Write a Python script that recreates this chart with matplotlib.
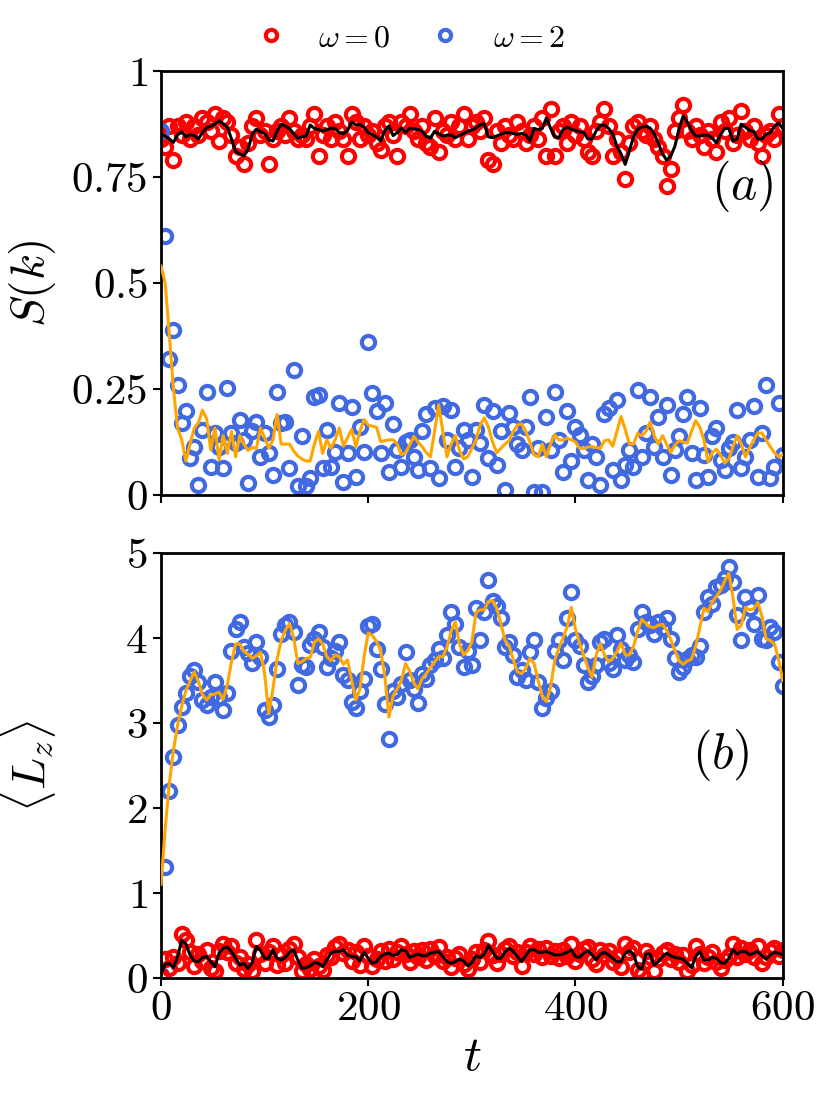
import matplotlib
matplotlib.use("Agg")
import matplotlib.pyplot as plt
import numpy as np

plt.rcParams['mathtext.fontset'] = 'cm'
plt.rcParams['font.family'] = 'serif'
plt.rcParams['font.serif'] = ['cmr10', 'DejaVu Serif']
plt.rcParams['axes.formatter.use_mathtext'] = True

# sample times (every 4 time units)
t = np.arange(0, 601, 4)

# panel (a): S(k)
s_red = [0.84, 0.82, 0.87, 0.79, 0.87, 0.85, 0.88, 0.84, 0.87, 0.85,
         0.89, 0.88, 0.86, 0.90, 0.835, 0.89, 0.88, 0.85, 0.80, 0.82,
         0.78, 0.83, 0.87, 0.89, 0.85, 0.86, 0.78, 0.84, 0.86, 0.87,
         0.85, 0.89, 0.86, 0.84, 0.85, 0.84, 0.87, 0.90, 0.80, 0.85,
         0.87, 0.84, 0.88, 0.86, 0.84, 0.80, 0.90, 0.88, 0.84, 0.87,
         0.85, 0.86, 0.83, 0.815, 0.87, 0.88, 0.85, 0.80, 0.88, 0.87,
         0.90, 0.86, 0.84, 0.87, 0.83, 0.82, 0.89, 0.81, 0.86, 0.85,
         0.88, 0.84, 0.87, 0.90, 0.84, 0.87, 0.88, 0.86, 0.89, 0.79,
         0.78, 0.86, 0.83, 0.87, 0.85, 0.84, 0.88, 0.86, 0.83, 0.85,
         0.87, 0.84, 0.89, 0.80, 0.91, 0.80, 0.86, 0.87, 0.83, 0.88,
         0.85, 0.87, 0.84, 0.81, 0.80, 0.86, 0.88, 0.91, 0.87, 0.80,
         0.84, 0.81, 0.745, 0.83, 0.87, 0.88, 0.86, 0.85, 0.87, 0.84,
         0.82, 0.80, 0.73, 0.77, 0.86, 0.89, 0.92, 0.86, 0.84, 0.87,
         0.85, 0.82, 0.86, 0.84, 0.81, 0.88, 0.86, 0.89, 0.83, 0.85,
         0.905, 0.86, 0.84, 0.87, 0.83, 0.80, 0.85, 0.86, 0.84, 0.90,
         0.87]
s_red_line = [0.85, 0.847, 0.84, 0.832, 0.85, 0.857, 0.845, 0.85, 0.848, 0.84,
              0.855, 0.867, 0.87, 0.875, 0.883, 0.876, 0.868, 0.84, 0.81, 0.805,
              0.80, 0.815, 0.851, 0.863, 0.857, 0.853, 0.838, 0.835, 0.858, 0.875,
              0.87, 0.864, 0.853, 0.842, 0.845, 0.847, 0.873, 0.865, 0.862, 0.859,
              0.862, 0.865, 0.865, 0.855, 0.852, 0.86, 0.88, 0.873, 0.874, 0.868,
              0.855, 0.85, 0.845, 0.835, 0.86, 0.871, 0.848, 0.855, 0.866, 0.855,
              0.865, 0.864, 0.862, 0.859, 0.846, 0.842, 0.858, 0.852, 0.847, 0.849,
              0.849, 0.843, 0.848, 0.853, 0.858, 0.861, 0.866, 0.873, 0.876, 0.845,
              0.843, 0.847, 0.851, 0.855, 0.855, 0.853, 0.851, 0.853, 0.85, 0.835,
              0.865, 0.862, 0.865, 0.89, 0.865, 0.845, 0.843, 0.862, 0.868, 0.863,
              0.86, 0.857, 0.855, 0.84, 0.84, 0.859, 0.872, 0.873, 0.865, 0.852,
              0.823, 0.805, 0.78, 0.812, 0.845, 0.863, 0.868, 0.87, 0.866, 0.852,
              0.83, 0.805, 0.79, 0.80, 0.823, 0.865, 0.894, 0.88, 0.86, 0.847,
              0.847, 0.849, 0.849, 0.842, 0.831, 0.85, 0.865, 0.865, 0.835, 0.84,
              0.875, 0.868, 0.86, 0.858, 0.84, 0.84, 0.851, 0.855, 0.87, 0.878,
              0.865]
s_blue = [0.86, 0.61, 0.32, 0.39, 0.26, 0.17, 0.197, 0.087, 0.114, 0.024,
          0.154, 0.244, 0.067, 0.146, 0.114, 0.063, 0.252, 0.146, 0.122, 0.177,
          0.13, 0.028, 0.15, 0.173, 0.09, 0.146, 0.098, 0.047, 0.244, 0.17,
          0.173, 0.063, 0.295, 0.02, 0.138, 0.02, 0.04, 0.23, 0.236, 0.063,
          0.154, 0.067, 0.102, 0.217, 0.03, 0.098, 0.207, 0.043, 0.16, 0.102,
          0.36, 0.24, 0.197, 0.098, 0.217, 0.055, 0.168, 0.106, 0.067, 0.126,
          0.13, 0.09, 0.059, 0.15, 0.19, 0.063, 0.205, 0.04, 0.209, 0.13,
          0.20, 0.067, 0.11, 0.154, 0.13, 0.043, 0.154, 0.122, 0.213, 0.087,
          0.197, 0.071, 0.15, 0.012, 0.193, 0.16, 0.12, 0.106, 0.16, 0.232,
          0.008, 0.11, 0.008, 0.185, 0.106, 0.244, 0.13, 0.055, 0.197, 0.079,
          0.16, 0.142, 0.106, 0.035, 0.12, 0.09, 0.024, 0.19, 0.205, 0.059,
          0.225, 0.035, 0.071, 0.106, 0.067, 0.248, 0.09, 0.146, 0.232, 0.114,
          0.185, 0.09, 0.213, 0.047, 0.106, 0.138, 0.19, 0.232, 0.098, 0.035,
          0.205, 0.095, 0.043, 0.138, 0.158, 0.083, 0.059, 0.11, 0.126, 0.20,
          0.063, 0.09, 0.13, 0.209, 0.043, 0.146, 0.26, 0.04, 0.067, 0.217,
          0.095]
s_blue_line = [0.54, 0.50, 0.38, 0.25, 0.158, 0.13, 0.08, 0.12, 0.157, 0.17,
               0.20, 0.18, 0.106, 0.158, 0.083, 0.14, 0.098, 0.15, 0.09, 0.14,
               0.12, 0.105, 0.112, 0.11, 0.158, 0.135, 0.11, 0.13, 0.19, 0.12,
               0.12, 0.12, 0.104, 0.092, 0.085, 0.08, 0.08, 0.12, 0.15, 0.098,
               0.13, 0.11, 0.13, 0.158, 0.115, 0.135, 0.155, 0.114, 0.15, 0.178,
               0.165, 0.162, 0.16, 0.126, 0.128, 0.13, 0.13, 0.12, 0.095, 0.10,
               0.118, 0.138, 0.125, 0.114, 0.10, 0.09, 0.15, 0.213, 0.15, 0.09,
               0.12, 0.14, 0.105, 0.085, 0.09, 0.11, 0.13, 0.165, 0.182, 0.16,
               0.125, 0.10, 0.11, 0.12, 0.128, 0.15, 0.165, 0.168, 0.15, 0.125,
               0.095, 0.09, 0.12, 0.09, 0.12, 0.142, 0.13, 0.13, 0.134, 0.13,
               0.125, 0.11, 0.11, 0.113, 0.114, 0.112, 0.11, 0.128, 0.13, 0.115,
               0.15, 0.185, 0.155, 0.12, 0.12, 0.145, 0.14, 0.15, 0.172, 0.14,
               0.12, 0.14, 0.12, 0.10, 0.118, 0.128, 0.125, 0.122, 0.15, 0.175,
               0.16, 0.13, 0.078, 0.10, 0.108, 0.095, 0.075, 0.085, 0.114, 0.14,
               0.12, 0.09, 0.11, 0.13, 0.146, 0.146, 0.13, 0.114, 0.10, 0.09,
               0.095]

# panel (b): <L_z>
lz_blue = [0.03, 1.30, 2.20, 2.60, 2.98, 3.19, 3.35, 3.55, 3.62, 3.48,
           3.27, 3.21, 3.31, 3.48, 3.31, 3.15, 3.35, 3.85, 4.11, 4.19,
           3.89, 3.82, 3.70, 3.95, 3.78, 3.15, 3.07, 3.21, 3.64, 4.05,
           4.15, 4.19, 4.07, 3.45, 3.68, 3.66, 3.92, 3.99, 4.07, 3.89,
           3.66, 3.76, 3.85, 3.95, 3.56, 3.50, 3.25, 3.18, 3.38, 3.52,
           4.14, 4.17, 3.87, 3.64, 3.22, 2.81, 3.38, 3.31, 3.46, 3.84,
           3.50, 3.40, 3.24, 3.58, 3.52, 3.68, 3.74, 3.87, 3.76, 4.03,
           4.31, 4.17, 3.89, 3.66, 3.85, 3.68, 4.35, 3.97, 4.31, 4.68,
           4.44, 4.38, 4.23, 3.89, 3.95, 3.80, 3.54, 3.62, 3.50, 3.84,
           3.97, 3.48, 3.17, 3.29, 3.38, 3.85, 3.97, 3.74, 4.23, 4.54,
           3.97, 3.91, 3.68, 3.48, 3.55, 3.68, 3.95, 3.99, 3.70, 3.64,
           4.03, 3.87, 3.74, 3.80, 3.72, 4.11, 4.31, 4.19, 4.15, 4.05,
           4.19, 4.12, 4.23, 3.99, 3.76, 3.60, 3.66, 3.75, 3.80, 3.78,
           3.91, 4.31, 4.48, 4.40, 4.60, 4.62, 4.70, 4.84, 4.66, 4.27,
           3.97, 4.48, 4.35, 4.17, 4.50, 3.99, 3.97, 4.13, 4.07, 3.72,
           3.44]
lz_blue_line = [1.10, 1.75, 2.29, 2.68, 2.97, 3.20, 3.38, 3.49, 3.60, 3.49,
                3.33, 3.27, 3.33, 3.34, 3.36, 3.28, 3.45, 3.72, 3.93, 3.93,
                3.84, 3.81, 3.76, 3.79, 3.83, 3.58, 3.11, 3.40, 3.75, 3.97,
                4.09, 4.17, 4.01, 3.70, 3.72, 3.76, 3.77, 3.95, 3.99, 3.93,
                3.78, 3.73, 3.80, 3.78, 3.69, 3.74, 3.50, 3.27, 3.40, 3.78,
                4.06, 4.03, 3.96, 3.85, 3.55, 3.07, 3.32, 3.40, 3.50, 3.70,
                3.61, 3.47, 3.40, 3.52, 3.58, 3.65, 3.72, 3.78, 3.78, 3.89,
                4.08, 4.19, 3.93, 3.80, 3.85, 3.95, 4.30, 4.33, 4.33, 4.43,
                4.44, 4.35, 4.17, 3.97, 3.91, 3.74, 3.60, 3.58, 3.64, 3.76,
                3.70, 3.50, 3.31, 3.25, 3.42, 3.74, 3.88, 4.00, 4.13, 4.36,
                4.10, 3.94, 3.79, 3.65, 3.54, 3.80, 3.93, 3.80, 3.72, 3.76,
                3.84, 3.94, 3.80, 3.80, 3.90, 4.08, 4.22, 4.17, 4.13, 4.12,
                4.15, 4.16, 4.09, 3.98, 3.85, 3.73, 3.69, 3.73, 3.75, 3.90,
                4.12, 4.35, 4.31, 4.42, 4.49, 4.56, 4.67, 4.76, 4.48, 4.10,
                4.15, 4.36, 4.33, 4.34, 4.42, 4.25, 3.99, 3.97, 3.93, 3.75,
                3.50]
lz_red = [0.02, 0.22, 0.12, 0.25, 0.18, 0.52, 0.45, 0.30, 0.14, 0.28,
          0.20, 0.33, 0.12, 0.08, 0.32, 0.40, 0.30, 0.38, 0.18, 0.24,
          0.10, 0.16, 0.08, 0.45, 0.28, 0.18, 0.30, 0.38, 0.15, 0.27,
          0.17, 0.34, 0.40, 0.25, 0.08, 0.16, 0.10, 0.22, 0.14, 0.09,
          0.27, 0.24, 0.36, 0.40, 0.29, 0.33, 0.20, 0.30, 0.15, 0.38,
          0.26, 0.14, 0.22, 0.31, 0.20, 0.34, 0.22, 0.30, 0.38, 0.28,
          0.19, 0.31, 0.24, 0.33, 0.21, 0.34, 0.26, 0.36, 0.20, 0.25,
          0.13, 0.23, 0.28, 0.16, 0.10, 0.22, 0.30, 0.19, 0.33, 0.43,
          0.27, 0.18, 0.28, 0.34, 0.38, 0.26, 0.30, 0.14, 0.30, 0.37,
          0.28, 0.34, 0.24, 0.35, 0.26, 0.31, 0.23, 0.33, 0.26, 0.40,
          0.20, 0.28, 0.34, 0.36, 0.22, 0.16, 0.33, 0.27, 0.32, 0.19,
          0.25, 0.13, 0.40, 0.30, 0.35, 0.09, 0.05, 0.32, 0.24, 0.08,
          0.22, 0.29, 0.33, 0.22, 0.28, 0.19, 0.27, 0.08, 0.15, 0.38,
          0.28, 0.17, 0.25, 0.30, 0.19, 0.12, 0.21, 0.26, 0.40, 0.25,
          0.35, 0.28, 0.33, 0.24, 0.37, 0.18, 0.25, 0.32, 0.35, 0.26,
          0.33]
lz_red_line = [0.05, 0.16, 0.17, 0.12, 0.25, 0.44, 0.40, 0.27, 0.20, 0.19,
               0.24, 0.25, 0.19, 0.13, 0.29, 0.35, 0.36, 0.31, 0.23, 0.15,
               0.17, 0.11, 0.18, 0.37, 0.32, 0.23, 0.23, 0.33, 0.23, 0.21,
               0.24, 0.30, 0.33, 0.21, 0.11, 0.12, 0.14, 0.18, 0.17, 0.13,
               0.21, 0.29, 0.31, 0.31, 0.33, 0.27, 0.25, 0.25, 0.20, 0.30,
               0.23, 0.17, 0.19, 0.25, 0.28, 0.29, 0.26, 0.28, 0.33, 0.32,
               0.24, 0.26, 0.28, 0.26, 0.26, 0.29, 0.30, 0.31, 0.25, 0.19,
               0.17, 0.19, 0.22, 0.20, 0.14, 0.18, 0.26, 0.24, 0.28, 0.38,
               0.31, 0.23, 0.23, 0.30, 0.35, 0.31, 0.25, 0.19, 0.26, 0.33,
               0.33, 0.30, 0.30, 0.31, 0.29, 0.27, 0.27, 0.28, 0.30, 0.33,
               0.25, 0.24, 0.29, 0.32, 0.27, 0.21, 0.28, 0.30, 0.27, 0.23,
               0.19, 0.19, 0.29, 0.32, 0.28, 0.13, 0.10, 0.28, 0.28, 0.15,
               0.19, 0.25, 0.29, 0.26, 0.24, 0.23, 0.22, 0.17, 0.12, 0.25,
               0.31, 0.21, 0.21, 0.24, 0.23, 0.18, 0.17, 0.23, 0.33, 0.28,
               0.31, 0.31, 0.27, 0.29, 0.31, 0.26, 0.22, 0.27, 0.30, 0.29,
               0.27]

xticks = [0, 200, 400, 600]
xticklabels = ['$0$', '$200$', '$400$', '$600$']
yticks_a = [0, 0.25, 0.5, 0.75, 1]
yticklabels_a = ['$0$', '$0.25$', '$0.5$', '$0.75$', '$1$']
yticks_b = [0, 1, 2, 3, 4, 5]
yticklabels_b = ['$%d$' % v for v in yticks_b]

red = '#ff0000'
blue = '#4169e1'
orange = '#ffa500'
ms = 9.5
mew = 3.0
lw = 2.2
fs_tick = 31
fs_label = 34

fig = plt.figure(figsize=(8.3, 10.95), dpi=100)
ax1 = fig.add_axes([0.194, 0.548, 0.749, 0.387])
ax2 = fig.add_axes([0.194, 0.107, 0.749, 0.388])

# (a)
h0, = ax1.plot(t, s_red, 'o', mfc='none', mec=red, ms=ms, mew=mew, zorder=2)
h2, = ax1.plot(t, s_blue, 'o', mfc='none', mec=blue, ms=ms, mew=mew, zorder=2)
ax1.plot(t, s_red_line, '-', color='black', lw=lw, zorder=3)
ax1.plot(t, s_blue_line, '-', color=orange, lw=lw, zorder=3)
ax1.set_ylim(0, 1)
ax1.set_yticks(yticks_a)
ax1.set_yticklabels(yticklabels_a)
ax1.set_ylabel('$S(k)$', fontsize=fs_label)
ax1.text(0.935, 0.73, '$(a)$', transform=ax1.transAxes, fontsize=36,
         ha='center', va='center')

# (b)
ax2.plot(t, lz_blue, 'o', mfc='none', mec=blue, ms=ms, mew=mew, zorder=2)
ax2.plot(t, lz_red, 'o', mfc='none', mec=red, ms=ms, mew=mew, zorder=2)
ax2.plot(t, lz_red_line, '-', color='black', lw=lw, zorder=3)
ax2.plot(t, lz_blue_line, '-', color=orange, lw=lw, zorder=3)
ax2.set_ylim(0, 5)
ax2.set_yticks(yticks_b)
ax2.set_yticklabels(yticklabels_b)
ax2.set_ylabel(r'$\langle L_z \rangle$', fontsize=fs_label)
ax2.set_xlabel('$t$', fontsize=36)
ax2.text(0.90, 0.525, '$(b)$', transform=ax2.transAxes, fontsize=36,
         ha='center', va='center')

for ax in (ax1, ax2):
    ax.set_xlim(0, 600)
    ax.set_xticks(xticks)
    for sp in ax.spines.values():
        sp.set_linewidth(2)
    ax.tick_params(direction='out', length=6, width=1.5, labelsize=fs_tick,
                   top=False, right=False)
    ax.yaxis.set_label_coords(-0.165, 0.5)
ax1.set_xticklabels([])
ax2.set_xticklabels(xticklabels)

fig.legend([h0, h2], [r'$\omega=0$', r'$\omega=2$'], loc='center',
           bbox_to_anchor=(0.494, 0.965), ncol=2, frameon=False,
           fontsize=23, markerscale=0.85, handlelength=1.0,
           handletextpad=1.0, columnspacing=1.2)

fig.savefig('out.png', dpi=100)
